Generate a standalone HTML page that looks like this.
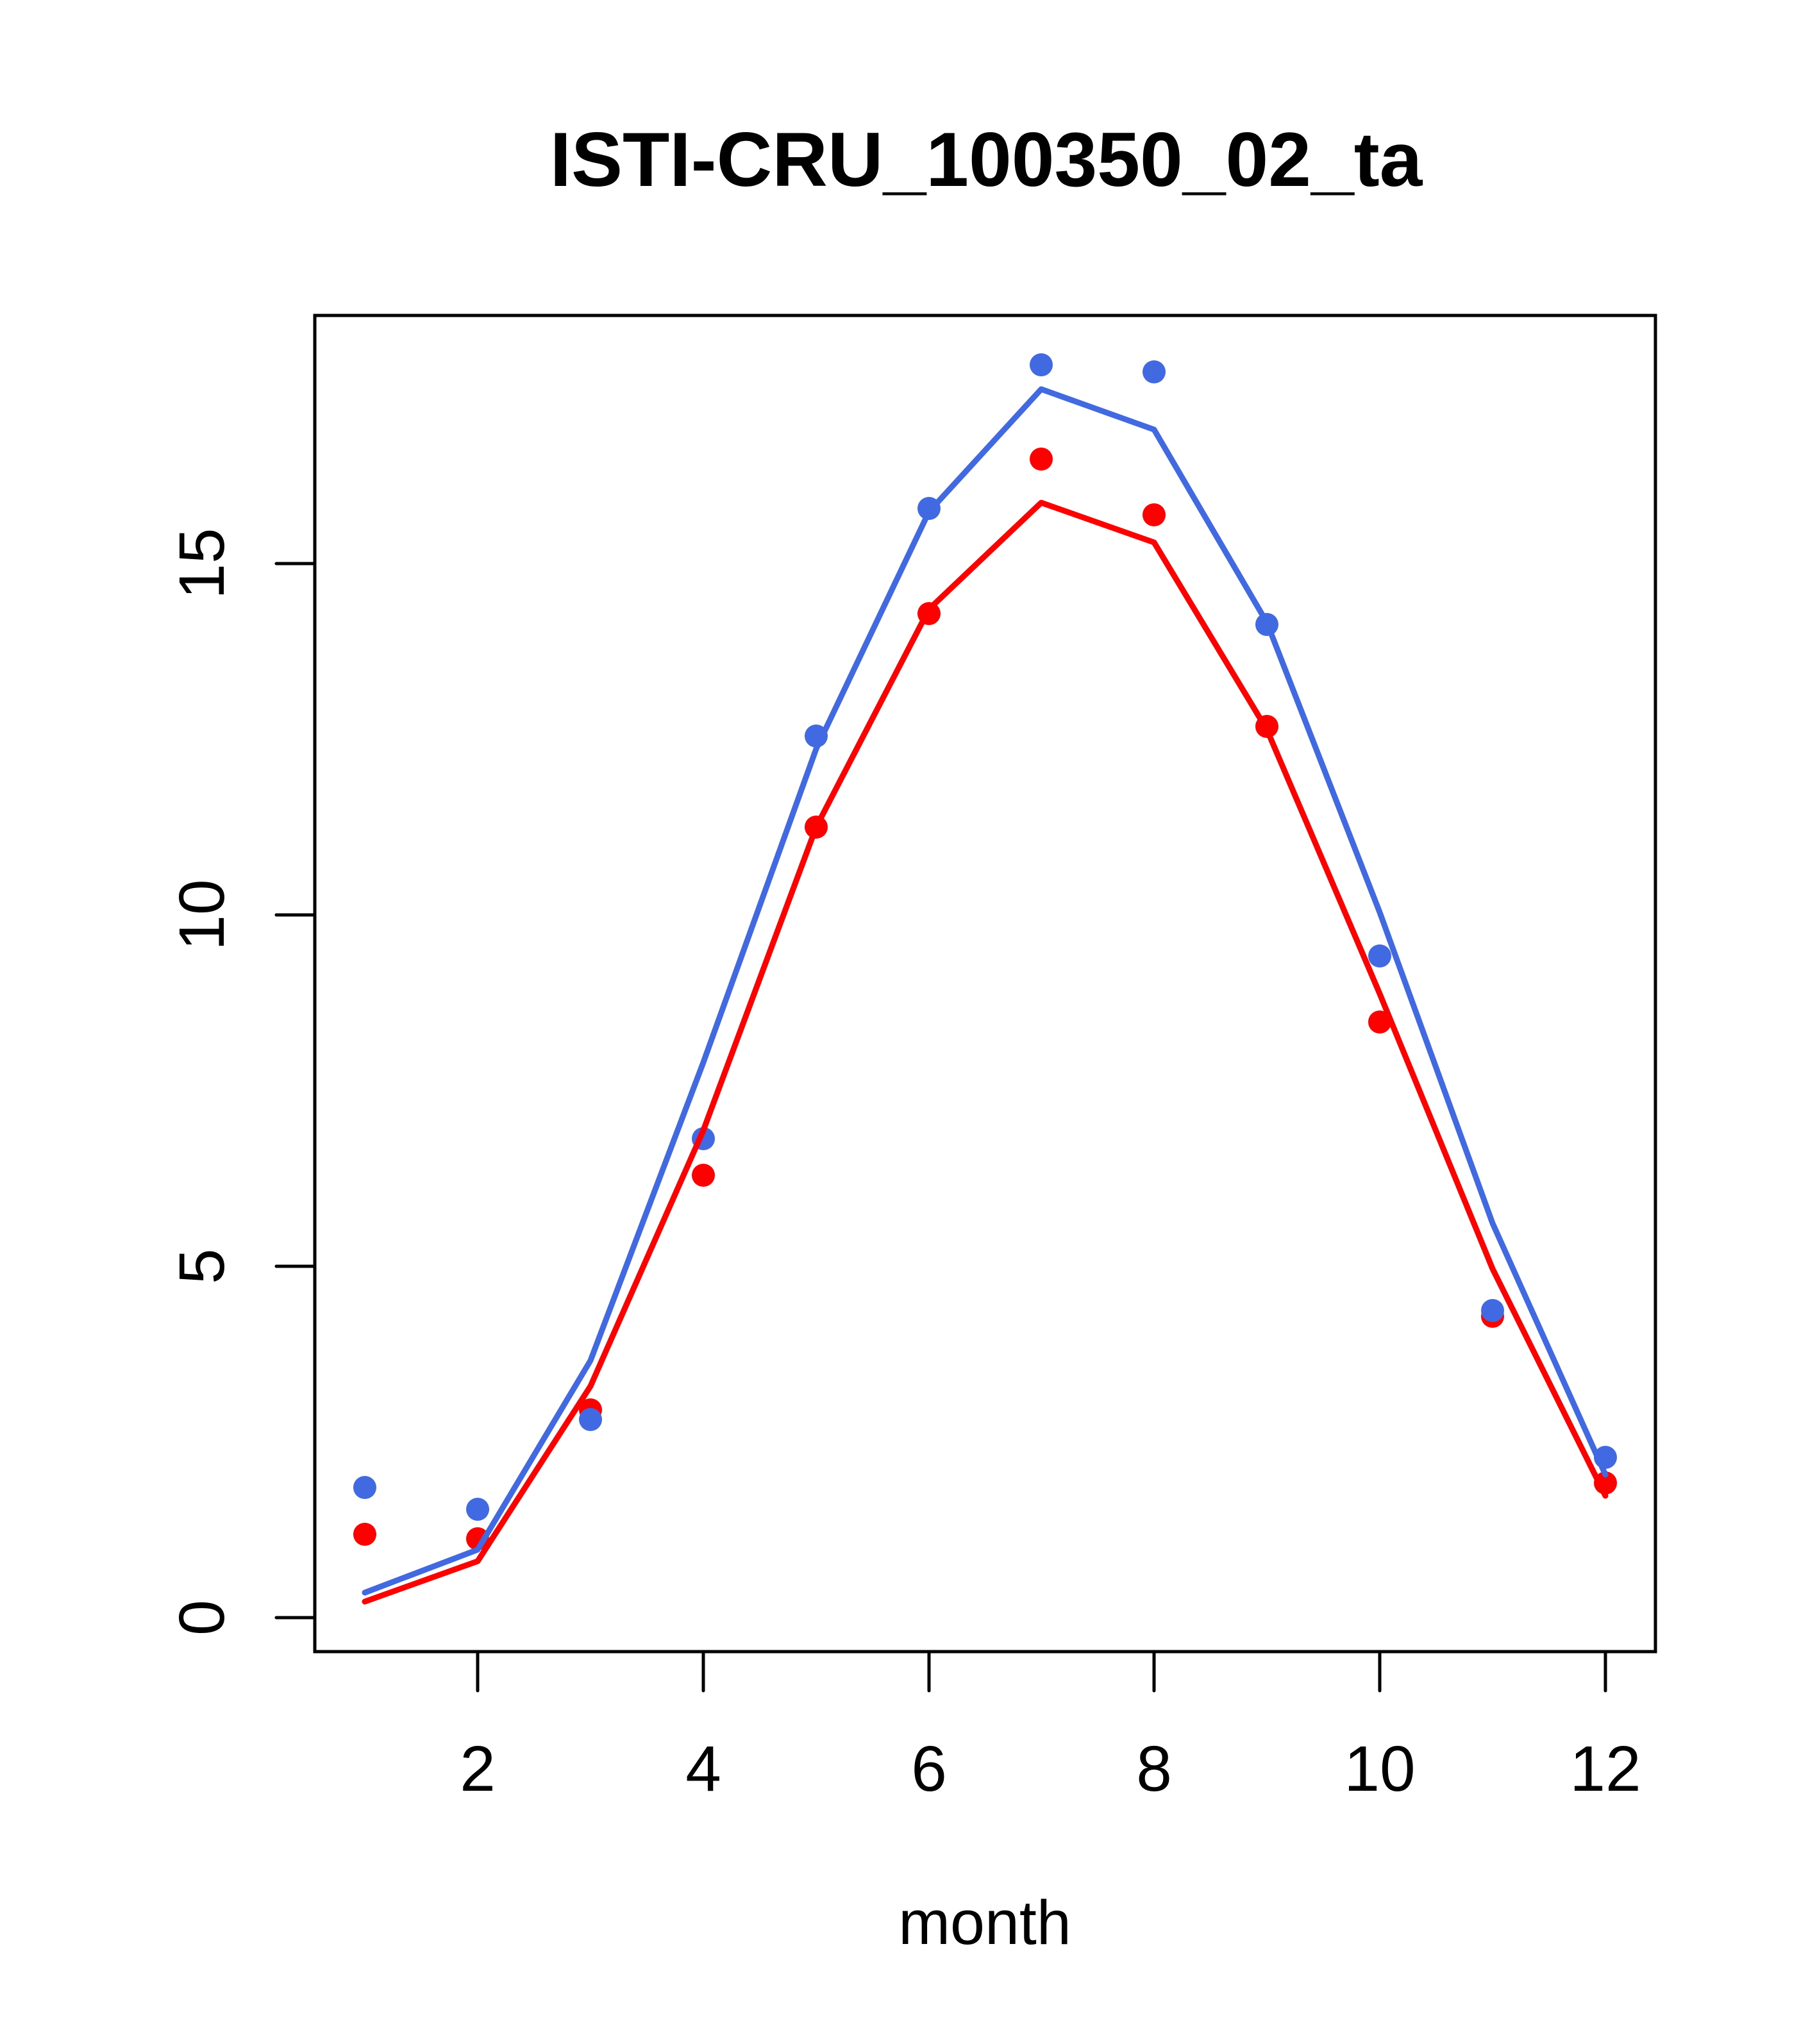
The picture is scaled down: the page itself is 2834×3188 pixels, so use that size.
<!DOCTYPE html>
<html><head><meta charset="utf-8"><style>html,body{margin:0;padding:0;background:#fff}svg{display:block}</style></head>
<body>
<svg width="2834" height="3188" viewBox="0 0 2834 3188" xmlns="http://www.w3.org/2000/svg" font-family="Liberation Sans, Arial, sans-serif">
<rect width="2834" height="3188" fill="#fff"/>
<text x="1538" y="290" font-size="120" font-weight="bold" text-anchor="middle">ISTI-CRU_100350_02_ta</text>
<rect x="491" y="492" width="2091" height="2084" fill="none" stroke="#000" stroke-width="5"/>
<g stroke="#000" stroke-width="5" stroke-linecap="round">
<line x1="745" y1="2576" x2="745" y2="2637"/>
<line x1="1097" y1="2576" x2="1097" y2="2637"/>
<line x1="1449" y1="2576" x2="1449" y2="2637"/>
<line x1="1800" y1="2576" x2="1800" y2="2637"/>
<line x1="2152" y1="2576" x2="2152" y2="2637"/>
<line x1="2504" y1="2576" x2="2504" y2="2637"/>
<line x1="431" y1="2523" x2="491" y2="2523"/>
<line x1="431" y1="1975" x2="491" y2="1975"/>
<line x1="431" y1="1427" x2="491" y2="1427"/>
<line x1="431" y1="879" x2="491" y2="879"/>
</g>
<g font-size="100" text-anchor="middle">
<text x="745" y="2793">2</text>
<text x="1097" y="2793">4</text>
<text x="1449" y="2793">6</text>
<text x="1800" y="2793">8</text>
<text x="2152" y="2793">10</text>
<text x="2504" y="2793">12</text>
<text transform="translate(349,2523) rotate(-90)">0</text>
<text transform="translate(349,1975) rotate(-90)">5</text>
<text transform="translate(349,1427) rotate(-90)">10</text>
<text transform="translate(349,879) rotate(-90)">15</text>
<text x="1536" y="3032" font-size="97">month</text>
</g>
<g fill="#ff0000">
<circle cx="569" cy="2393" r="18"/><circle cx="745" cy="2400" r="18"/><circle cx="921" cy="2199" r="18"/><circle cx="1097" cy="1833" r="18"/><circle cx="1273" cy="1290" r="18"/><circle cx="1449" cy="957" r="18"/><circle cx="1624" cy="716" r="18"/><circle cx="1800" cy="803" r="18"/><circle cx="1976" cy="1133" r="18"/><circle cx="2152" cy="1594" r="18"/><circle cx="2328" cy="2053" r="18"/>
</g>
<g fill="#4169e1">
<circle cx="569" cy="2320" r="18"/><circle cx="745" cy="2354" r="18"/><circle cx="921" cy="2214" r="18"/><circle cx="1097" cy="1776" r="18"/><circle cx="1273" cy="1148" r="18"/><circle cx="1449" cy="793" r="18"/><circle cx="1624" cy="569" r="18"/><circle cx="1800" cy="580" r="18"/><circle cx="1976" cy="974" r="18"/><circle cx="2152" cy="1491" r="18"/><circle cx="2328" cy="2044" r="18"/><circle cx="2504" cy="2273" r="18"/>
</g>
<circle cx="2504" cy="2313" r="18" fill="#ff0000"/>
<polyline fill="none" stroke="#ff0000" stroke-width="9" stroke-linejoin="round" stroke-linecap="round" points="569,2498 745,2435 921,2162 1097,1763 1273,1290 1449,950 1624,784 1800,846 1976,1138 2152,1550 2328,1979 2504,2333"/>
<polyline fill="none" stroke="#4169e1" stroke-width="9" stroke-linejoin="round" stroke-linecap="round" points="569,2484 745,2417 921,2122 1097,1657 1273,1168 1449,798 1624,607 1800,670 1976,971 2152,1423 2328,1908 2504,2300"/>
</svg>
</body></html>
